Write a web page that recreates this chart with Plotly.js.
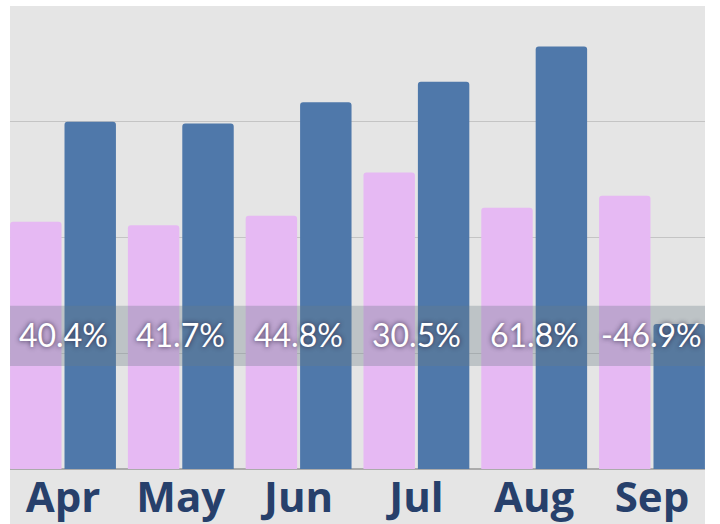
<!DOCTYPE html>
<html>
<head>
<meta charset="utf-8">
<script src="https://cdn.plot.ly/plotly-3.0.1.min.js"></script>
<style>html,body{margin:0;padding:0;background:#fff;}#chart{width:720px;height:524px;}</style>
</head>
<body>
<div id="chart"></div>
<script>
const months = ["Apr", "May", "Jun", "Jul", "Aug", "Sep"];
const seriesA = [213.5, 210.6, 218.7, 256.1, 225.6, 236.0];
const seriesB = [300.0, 298.5, 316.9, 334.5, 365.0, 125.3];
const changeLabels = ["40.4%", "41.7%", "44.8%", "30.5%", "61.8%", "-46.9%"];

const traces = [
  {type: "bar", x: months, y: seriesA, name: "A",
   marker: {color: "#e6b9f3", cornerradius: 3}, hoverinfo: "none"},
  {type: "bar", x: months, y: seriesB, name: "B",
   marker: {color: "#4f78aa", cornerradius: 3}, hoverinfo: "none"}
];

const annotations = months.map((m, i) => ({
  x: m, y: 116, xref: "x", yref: "y", text: changeLabels[i], showarrow: false,
  xanchor: "center", yanchor: "middle",
  font: {family: "Lato, 'Noto Sans', sans-serif", size: 32, color: "#ffffff",
         shadow: "0px 0px 5px rgba(40,30,60,0.85)"}
}));

const layout = {
  width: 720, height: 524,
  margin: {l: 10, r: 15, t: 6, b: 55, pad: 0},
  paper_bgcolor: "#ffffff",
  plot_bgcolor: "#e5e5e5",
  showlegend: false,
  barmode: "group",
  bargap: 0.076,
  bargroupgap: 0.055,
  xaxis: {
    type: "category", range: [-0.45, 5.45], showgrid: false, zeroline: false,
    showline: false, ticks: "",
    tickfont: {family: "'Open Sans', 'Noto Sans', sans-serif", size: 42, color: "#27406b", weight: 700}
  },
  yaxis: {
    range: [0, 400], dtick: 100, showticklabels: false, ticks: "",
    showgrid: true, gridcolor: "#c4c4c4", gridwidth: 1,
    zeroline: true, zerolinecolor: "#ababab", zerolinewidth: 2
  },
  shapes: [
    {type: "rect", xref: "paper", yref: "paper", x0: 0, x1: 1, y0: -0.2, y1: 0,
     fillcolor: "#e5e5e5", line: {width: 0}, layer: "below"},
    {type: "rect", xref: "paper", yref: "y", x0: 0, x1: 1, y0: 89, y1: 141,
     fillcolor: "rgba(105,125,135,0.32)", line: {width: 0}, layer: "above"}
  ],
  annotations: annotations
};

Plotly.newPlot("chart", traces, layout, {displayModeBar: false, staticPlot: true});
</script>
</body>
</html>
